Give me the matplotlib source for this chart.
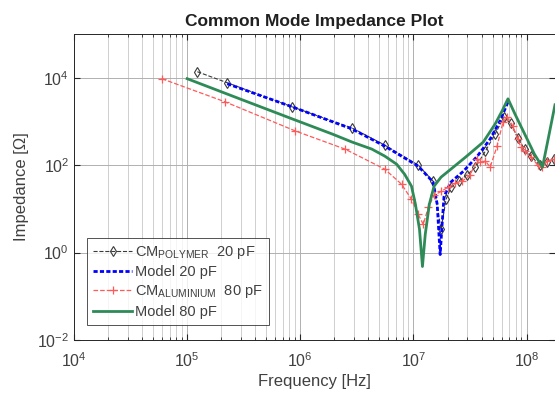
import matplotlib
matplotlib.use("Agg")
import matplotlib.pyplot as plt
from matplotlib.ticker import LogLocator, NullFormatter, NullLocator

plt.rcParams["font.family"] = ["Liberation Sans", "DejaVu Sans"]
plt.rcParams["mathtext.fontset"] = "custom"
plt.rcParams["mathtext.rm"] = "Liberation Sans"

# measured, polymer core, 20 pF
f_poly = [1.23e5, 2.26e5, 8.5e5, 2.86e6, 5.57e6, 1.1e7, 1.49e7, 1.75e7, 1.94e7,
          2.14e7, 2.51e7, 2.95e7, 3.53e7, 4.32e7, 5.27e7, 6.31e7, 7.2e7, 8.35e7,
          9.6e7, 1.1e8, 1.3e8, 1.5e8, 1.75e8]
z_poly = [1.37e4, 7.67e3, 2.15e3, 709, 288, 100, 43, 3.4, 16.5,
          31, 43, 59, 90, 210, 516, 1270, 900, 420,
          230, 160, 100, 120, 135]

# model, 20 pF
f_m20 = [2.26e5, 8.5e5, 2.86e6, 5.57e6, 1.1e7, 1.49e7, 1.62e7, 1.72e7, 1.79e7,
         1.86e7, 2.14e7, 2.77e7, 3.67e7, 4.76e7, 5.82e7, 6.84e7]
z_m20 = [7.28e3, 2.15e3, 673, 273, 95, 41, 12.7, 0.9, 4.4,
         19, 41, 73, 161, 396, 1030, 2800]

# measured, aluminium core, 80 pF
f_alu = [5.96e4, 2.17e5, 9.04e5, 2.48e6, 5.57e6, 7.85e6, 9.6e6, 1.1e7, 1.22e7,
         1.35e7, 1.52e7, 1.75e7, 2.01e7, 2.35e7, 2.69e7, 3.16e7, 3.67e7, 3.9e7,
         4.32e7, 4.76e7, 5.48e7, 6.18e7, 6.7e7, 7.55e7, 8.35e7, 8.87e7, 9.6e7,
         1.1e8, 1.25e8, 1.38e8, 1.52e8, 1.75e8]
z_alu = [9.5e3, 2.8e3, 605, 233, 81, 36.6, 16.5, 7.5, 4.4,
         10.8, 20.4, 25, 31, 38.6, 43, 59, 137, 117,
         124, 90, 273, 975, 1270, 788, 396, 259, 210,
         153, 100, 90, 124, 137]

# model, 80 pF
f_m80 = [1e5, 3.07e5, 8.5e5, 1.91e6, 2.86e6, 4.28e6, 5.57e6, 7.1e6, 8.34e6,
         9.6e6, 1.04e7, 1.13e7, 1.2e7, 1.27e7, 1.38e7, 1.52e7, 1.75e7, 2.14e7,
         2.89e7, 4.14e7, 5.27e7, 6.07e7, 6.84e7, 7.87e7, 9.6e7, 1.17e8, 1.38e8,
         1.55e8, 1.78e8]
z_m80 = [9.5e3, 3.12e3, 1.14e3, 516, 338, 233, 161, 105, 62,
         33, 12.7, 3.4, 0.48, 2.6, 12.7, 33, 53, 81,
         153, 338, 877, 1740, 3290, 1490, 516, 179, 90,
         400, 2400]

fig = plt.figure(figsize=(5.55, 4.03), dpi=100)
ax = fig.add_axes([74 / 555, 63 / 403, 481 / 555, 306 / 403])

ax.loglog(f_poly, z_poly, "--", color="#3a3a3a", lw=0.8, marker="d",
          ms=5, mfc="none", mec="#3a3a3a", mew=0.8,
          label=r"CM$_{\mathrm{POLYMER}}$  20 pF")
ax.loglog(f_m20, z_m20, color="#0000ff", lw=2.0, ls=(0, (1.5, 0.8)),
          label="Model 20 pF")
ax.loglog(f_alu, z_alu, "--", color="#ff5a5a", lw=0.9, marker="+",
          ms=6, mew=0.9, label=r"CM$_{\mathrm{ALUMINIUM}}$  80 pF")
ax.loglog(f_m80, z_m80, "-", color="#2e8b57", lw=2.0, label="Model 80 pF")

ax.set_xlim(1e4, 1.78e8)
ax.set_ylim(1e-2, 1e5)
ax.set_yticks([1e-2, 1e0, 1e2, 1e4])
ax.yaxis.set_minor_locator(NullLocator())
ax.xaxis.set_minor_locator(LogLocator(base=10, subs=range(2, 10), numticks=20))
ax.xaxis.set_minor_formatter(NullFormatter())

ax.grid(True, which="major", color="#b0b0b0", lw=0.7)
ax.grid(True, which="minor", axis="x", color="#c8c8c8", lw=0.6)
ax.set_axisbelow(True)

ax.tick_params(which="both", direction="in", top=True, right=True,
               colors="#262626", labelsize=11.5, labelcolor="#404040")
ax.tick_params(which="major", length=4)
ax.tick_params(which="minor", length=2.5)
ax.tick_params(axis="x", pad=8)
for s in ax.spines.values():
    s.set_color("#262626")
    s.set_linewidth(0.7)

ax.set_title("Common Mode Impedance Plot", fontsize=12.5, fontweight="bold",
             color="#202020", pad=6)
ax.set_xlabel("Frequency [Hz]", fontsize=12, color="#404040", labelpad=3)
ax.set_ylabel("Impedance [Ω]", fontsize=12, color="#404040", labelpad=6)

leg = ax.legend(loc="lower left", bbox_to_anchor=(0.027, 0.05), fontsize=10.5,
                frameon=True, fancybox=False, handlelength=2.7,
                handletextpad=0.2, borderpad=0.4, labelspacing=0.3,
                borderaxespad=0)
leg.get_frame().set_edgecolor("#262626")
leg.get_frame().set_linewidth(0.7)
for t in leg.get_texts():
    t.set_color("#404040")

fig.savefig("out.png", dpi=100)
